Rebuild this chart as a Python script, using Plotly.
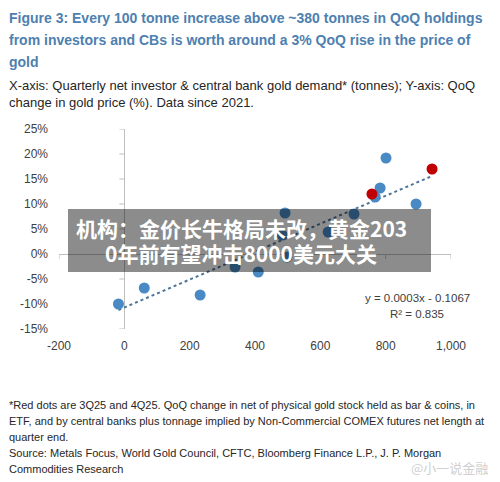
import plotly.graph_objects as go

# 数据: x = 季度净投资者与央行需求(吨), y = 金价季度变化(%)
blue_x = [-18, 61, 232, 339, 410, 483, 492, 498, 624, 703, 768, 783, 801, 893]
blue_y = [-10.0, -6.8, -8.2, -2.6, -3.6, 3.8, 8.2, -0.6, 4.4, 8.0, 11.4, 13.2, 19.2, 10.0]
red_x = [758, 942]
red_y = [12.0, 17.0]
# 趋势线两端
trend_x = [-18, 942]
trend_y = [-11.2, 15.6]

x_ticks = [-200, 0, 200, 400, 600, 800, 1000]
x_labels = ["-200", "0", "200", "400", "600", "800", "1,000"]
y_ticks = [-15, -10, -5, 0, 5, 10, 15, 20, 25]
y_labels = ["-15%", "-10%", "-5%", "0%", "5%", "10%", "15%", "20%", "25%"]

title_lines = [
    "Figure 3: Every 100 tonne increase above ~380 tonnes in QoQ holdings",
    "from investors and CBs is worth around a 3% QoQ rise in the price of",
    "gold",
]
sub_lines = [
    "X-axis: Quarterly net investor & central bank gold demand* (tonnes); Y-axis: QoQ",
    "change in gold price (%). Data since 2021.",
]
note_lines = [
    "*Red dots are 3Q25 and 4Q25. QoQ change in net of physical gold stock held as bar & coins, in",
    "ETF, and by central banks plus tonnage implied by Non-Commercial COMEX futures net length at",
    "quarter end.",
    "Source: Metals Focus, World Gold Council, CFTC, Bloomberg Finance L.P., J. P. Morgan",
    "Commodities Research",
]
banner_lines = ["机构：金价长牛格局未改，黄金203", "0年前有望冲击8000美元大关"]

# 页面 body 默认有 8px 边距, 这里整体往回挪
OFF = 8
W, H = 500 - OFF, 482 - OFF
# 绘图区在窗口中的像素位置
L, R, T, B = 59, 451, 129, 329


def px(x, y):
    # 窗口像素 -> paper 坐标
    return (x - L) / (R - L), (B - y) / (B - T)


FONT = "Liberation Sans, Arial"

fig = go.Figure()
fig.add_trace(go.Scatter(
    x=trend_x, y=trend_y, mode='lines',
    line={'color': '#4f7699', 'width': 2, 'dash': 'dot'},
    hoverinfo='skip',
))
fig.add_trace(go.Scatter(
    x=blue_x, y=blue_y, mode='markers',
    marker={'color': '#4a8ac4', 'size': 11},
))
fig.add_trace(go.Scatter(
    x=red_x, y=red_y, mode='markers',
    marker={'color': '#c00000', 'size': 11},
))

shapes = []
# 坐标轴刻度线
for v in y_ticks:
    shapes.append(dict(type='line', xref='x', yref='y', xsizemode='pixel', xanchor=0,
                       x0=-5, x1=0, y0=v, y1=v, line={'color': '#bfbfbf', 'width': 1},
                       layer='below'))
for v in x_ticks:
    shapes.append(dict(type='line', xref='x', yref='y', ysizemode='pixel', yanchor=0,
                       x0=v, x1=v, y0=0, y1=-5, line={'color': '#bfbfbf', 'width': 1},
                       layer='below'))
# 新闻标题遮罩
bx0, by0 = px(68, 272)
bx1, by1 = px(431, 209)
shapes.append(dict(type='rect', xref='paper', yref='paper', x0=bx0, x1=bx1, y0=by0, y1=by1,
                   fillcolor='rgba(0,0,0,0.45)', line={'width': 0}, layer='above'))

annotations = []


def add_text(t, x, y, size, color, anchor='left', family=FONT, weight='normal'):
    ax, ay = px(x, y)
    annotations.append(dict(text=t, x=ax, y=ay, xref='paper', yref='paper', xanchor=anchor,
                            yanchor='middle', showarrow=False,
                            font={'family': family, 'size': size, 'color': color,
                                  'weight': weight}))


for i, t in enumerate(title_lines):
    add_text(t, 7, 18 + i * 22, 14, '#4e80b0', weight='bold')
for i, t in enumerate(sub_lines):
    add_text(t, 7, 86 + i * 16, 13, '#262626')
for i, t in enumerate(note_lines):
    add_text(t, 7, 405 + i * 16, 11, '#262626')
for i, t in enumerate(banner_lines):
    add_text(t, 241, 228 + i * 25, 21, 'white', anchor='center',
             family='Noto Sans CJK SC', weight='bold')
add_text("y = 0.0003x - 0.1067", 417, 298, 11.5, '#404040', anchor='center')
add_text("R² = 0.835", 417, 314, 11.5, '#404040', anchor='center')
add_text("@小一说金融", 490, 467, 13, '#d0d0d0', anchor='right', family='Noto Sans CJK SC')

fig.update_layout(
    width=W, height=H,
    margin={'l': L - OFF, 'r': 500 - R, 't': T - OFF, 'b': 482 - B, 'pad': 0},
    plot_bgcolor='white', paper_bgcolor='white',
    showlegend=False,
    font={'family': FONT, 'size': 12, 'color': '#404040'},
    xaxis={'range': [-200, 1000], 'tickvals': x_ticks, 'ticktext': x_labels, 'showgrid': False,
           'zeroline': True, 'zerolinecolor': '#bfbfbf', 'zerolinewidth': 1,
           'showline': False, 'ticklabelstandoff': 8},
    yaxis={'range': [-15, 25], 'tickvals': y_ticks, 'ticktext': y_labels, 'showgrid': False,
           'zeroline': True, 'zerolinecolor': '#bfbfbf', 'zerolinewidth': 1,
           'showline': False, 'ticklabelstandoff': 10},
    shapes=shapes,
    annotations=annotations,
)

fig.write_html("out.html")
